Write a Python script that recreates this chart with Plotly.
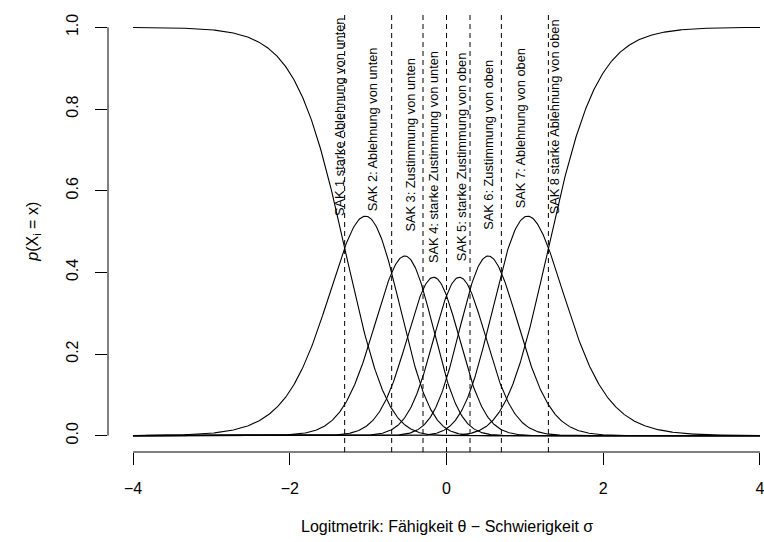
import numpy as np
import plotly.graph_objects as go

# ---- data ----
thresholds = [-1.3, -0.7, -0.3, 0.0, 0.3, 0.7, 1.3]   # dashed lines (category crossings)
slope = 3.0                                          # discrimination giving the peak heights
cat_labels = [
    "SAK 1 starke Ablehnung von unten",
    "SAK 2: Ablehnung von unten",
    "SAK 3: Zustimmung von unten",
    "SAK 4: starke Zustimmung von unten",
    "SAK 5: starke Zustimmung von oben",
    "SAK 6: Zustimmung von oben",
    "SAK 7: Ablehnung von oben",
    "SAK 8 starke Ablehnung von oben",
]
label_x = [-1.365, -0.95, -0.46, -0.165, 0.195, 0.534, 0.937, 1.383]
label_y = [0.533, 0.545, 0.496, 0.417, 0.422, 0.50, 0.552, 0.538]
x_ticks = [-4, -2, 0, 2, 4]
y_ticks = [0.0, 0.2, 0.4, 0.6, 0.8, 1.0]
theta_min, theta_max = -4.0, 4.0

# ---- category probability curves (generalised partial credit model) ----
theta = np.linspace(theta_min, theta_max, 801)
cum = np.concatenate([[0.0], np.cumsum(thresholds)])
k = np.arange(len(cum))
logits = slope * (np.outer(theta, k) - cum[None, :])
logits -= logits.max(axis=1, keepdims=True)
ex = np.exp(logits)
probs = ex / ex.sum(axis=1, keepdims=True)

FONT = "Liberation Sans, Arial, Helvetica, sans-serif"
fig = go.Figure()
for j in range(probs.shape[1]):
    fig.add_trace(go.Scatter(x=theta, y=probs[:, j], mode="lines",
                             line=dict(color="black", width=1.1),
                             showlegend=False, hoverinfo="skip"))

shapes = []
for t in thresholds:
    shapes.append(dict(type="line", xref="x", yref="paper", x0=t, x1=t, y0=0, y1=1,
                       line=dict(color="black", width=1, dash="5px,4px")))
# R-style axis lines spanning only first to last tick
shapes.append(dict(type="line", xref="x", yref="paper", x0=x_ticks[0], x1=x_ticks[-1],
                   y0=0, y1=0, line=dict(color="black", width=1)))
shapes.append(dict(type="line", xref="paper", yref="y", x0=0, x1=0,
                   y0=y_ticks[0], y1=y_ticks[-1], line=dict(color="black", width=1)))

annotations = []
for lx, ly, txt in zip(label_x, label_y, cat_labels):
    annotations.append(dict(x=lx, y=ly, xref="x", yref="y", text=txt, showarrow=False,
                            textangle=-90, xanchor="center", yanchor="bottom",
                            font=dict(family=FONT, size=12.8, color="black")))
annotations.append(dict(x=0, y=-0.168, xref="x", yref="paper",
                        text="Logitmetrik: Fähigkeit θ − Schwierigkeit σ",
                        showarrow=False, xanchor="center", yanchor="middle",
                        font=dict(family=FONT, size=16, color="black")))
annotations.append(dict(x=-0.1143, y=0.5, xref="paper", yref="paper",
                        text="<i>p</i>(X<sub>i</sub> = x)", textangle=-90,
                        showarrow=False, xanchor="center", yanchor="middle",
                        font=dict(family=FONT, size=16, color="black")))

W, H = 764, 542
ml, mt, mb = 108, 11, 90
px_per_unit = 78.6
fig.update_layout(
    width=W, height=H, margin=dict(l=ml, r=0, t=mt, b=mb, pad=0),
    paper_bgcolor="white", plot_bgcolor="white",
    font=dict(family=FONT, size=16, color="black"),
    shapes=shapes, annotations=annotations,
    xaxis=dict(range=[-4.32, -4.32 + (W - ml) / px_per_unit], tickvals=x_ticks,
               ticks="outside", ticklen=12, tickcolor="black", tickwidth=1,
               showgrid=False, zeroline=False, showline=False,
               ticklabeloverflow="allow", ticklabelstandoff=10,
               tickfont=dict(family=FONT, size=16)),
    yaxis=dict(range=[-0.04, 1.04], tickvals=y_ticks, tickformat=".1f",
               ticks="outside", ticklen=12, tickcolor="black", tickwidth=1,
               showgrid=False, zeroline=False, showline=False, tickangle=-90,
               ticklabeloverflow="allow", ticklabelstandoff=11,
               tickfont=dict(family=FONT, size=16)),
)
fig.write_html("out.html")
